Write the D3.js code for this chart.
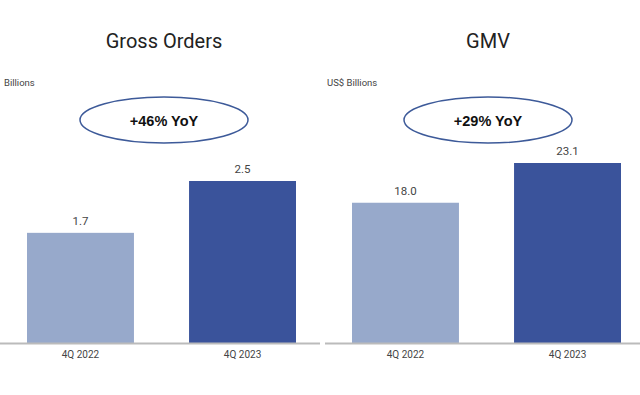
<!DOCTYPE html>
<html>
<head>
<meta charset="utf-8">
<script src="https://cdn.jsdelivr.net/npm/d3@7"></script>
<style>
  body { margin: 0; background: #fff; }
  svg { display: block; }
</style>
</head>
<body>
<svg width="640" height="395"></svg>
<script>
// data
var categories = ["4Q 2022", "4Q 2023"];
var ordersValues = [1.7, 2.5];
var gmvValues = [18.0, 23.1];
var panelTitles = ["Gross Orders", "GMV"];
var unitLabels = ["Billions", "US$ Billions"];
var yoyLabels = ["+46% YoY", "+29% YoY"];

var barColors = ["#97a9cb", "#3a539b"];

var svg = d3.select("svg");

var panels = [
  { lineX0: 0, lineX1: 320, values: ordersValues, bandL: 27, bandR: 296, center: 164, unitX: 4 },
  { lineX0: 325, lineX1: 640, values: gmvValues, bandL: 352, bandR: 621, center: 488, unitX: 327 }
];

var baseY = 343;

panels.forEach(function (p, k) {
  var g = svg.append("g");

  // top of the taller bar sits near y=181 / 163
  var topY = k == 0 ? 181 : 163;
  var y = d3.scaleLinear()
    .domain([0, d3.max(p.values)])
    .range([baseY, topY]);

  var x = d3.scaleBand()
    .domain(categories)
    .range([p.bandL, p.bandR])
    .paddingInner(0.34);

  // title
  g.append("text")
    .attr("x", p.center)
    .attr("y", 48)
    .attr("text-anchor", "middle")
    .attr("font-family", "Roboto, 'Open Sans', sans-serif")
    .attr("font-size", 20)
    .attr("fill", "#222")
    .text(panelTitles[k]);

  // unit
  g.append("text")
    .attr("x", p.unitX)
    .attr("y", 86)
    .attr("font-family", "Roboto, 'Open Sans', sans-serif")
    .attr("font-size", 9.5)
    .attr("fill", "#444")
    .text(unitLabels[k]);

  // yoy ellipse
  g.append("ellipse")
    .attr("cx", p.center)
    .attr("cy", 120)
    .attr("rx", 84)
    .attr("ry", 23)
    .attr("fill", "none")
    .attr("stroke", "#3d5a99")
    .attr("stroke-width", 1.5);

  g.append("text")
    .attr("x", p.center)
    .attr("y", 126)
    .attr("text-anchor", "middle")
    .attr("font-family", "'Liberation Sans', Arial, sans-serif")
    .attr("font-weight", "bold")
    .attr("font-size", 14.5)
    .attr("fill", "#111")
    .text(yoyLabels[k]);

  // bars
  g.selectAll("rect")
    .data(p.values)
    .enter()
    .append("rect")
    .attr("x", function (d, i) { return x(categories[i]); })
    .attr("y", function (d) { return y(d); })
    .attr("width", x.bandwidth())
    .attr("height", function (d) { return baseY - y(d); })
    .attr("fill", function (d, i) { return barColors[i]; });

  // value labels
  g.selectAll(".val")
    .data(p.values)
    .enter()
    .append("text")
    .attr("class", "val")
    .attr("x", function (d, i) { return x(categories[i]) + x.bandwidth() / 2; })
    .attr("y", function (d) { return y(d) - 8; })
    .attr("text-anchor", "middle")
    .attr("font-family", "Roboto, 'Open Sans', sans-serif")
    .attr("font-size", 11.5)
    .attr("fill", "#444")
    .text(function (d) { return d.toFixed(1); });

  // baseline
  g.append("line")
    .attr("x1", p.lineX0)
    .attr("x2", p.lineX1)
    .attr("y1", baseY + 0.5)
    .attr("y2", baseY + 0.5)
    .attr("stroke", "#bbb")
    .attr("stroke-width", 2);

  // category labels
  var axis = d3.axisBottom(x).tickSize(0).tickPadding(8);
  var ax = g.append("g")
    .attr("transform", "translate(0," + baseY + ")")
    .call(axis);
  ax.select(".domain").remove();
  ax.selectAll("text")
    .attr("font-family", "Roboto, 'Open Sans', sans-serif")
    .attr("font-size", 10)
    .attr("fill", "#444");
});
</script>
</body>
</html>
